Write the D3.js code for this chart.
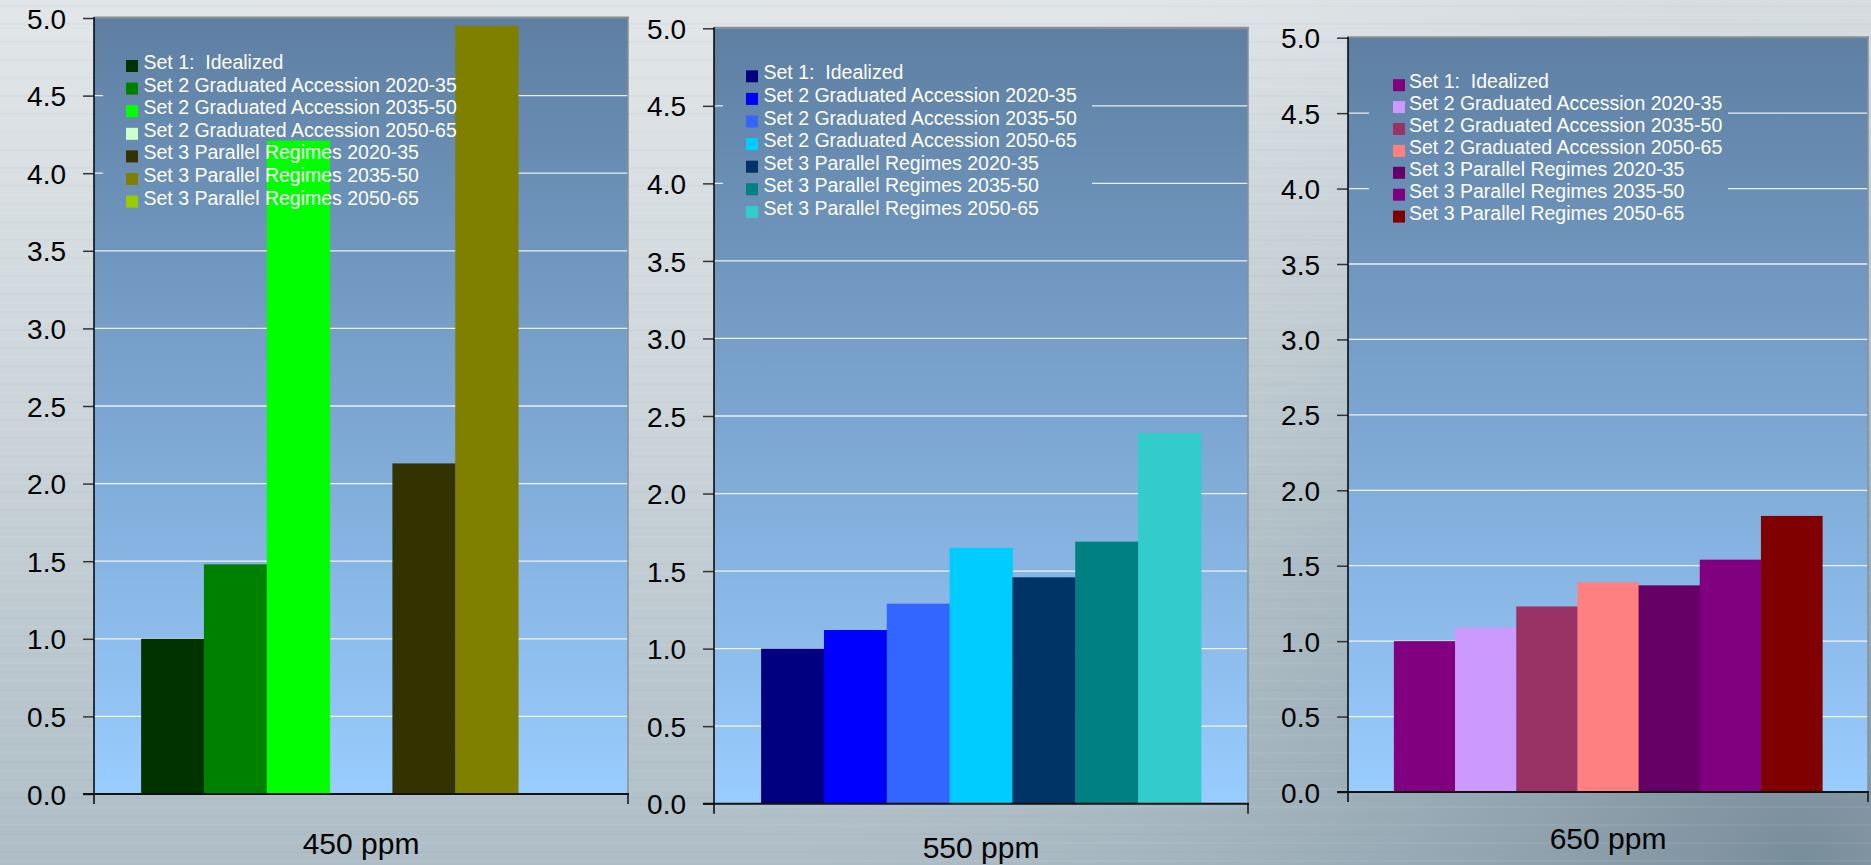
<!DOCTYPE html>
<html>
<head>
<meta charset="utf-8">
<script src="https://cdn.jsdelivr.net/npm/d3@7/dist/d3.min.js"></script>
<style>
  html, body { margin: 0; padding: 0; overflow: hidden; }
  svg { display: block; }
  text { font-family: "Liberation Sans", Arial, Helvetica, sans-serif; }
</style>
</head>
<body>
<svg id="chart" width="1871" height="865"></svg>
<script>
// ---- data -------------------------------------------------------------
const scenarios = ["450 ppm", "550 ppm", "650 ppm"];

const seriesNames = [
  "Set 1:  Idealized",
  "Set 2 Graduated Accession 2020-35",
  "Set 2 Graduated Accession 2035-50",
  "Set 2 Graduated Accession 2050-65",
  "Set 3 Parallel Regimes 2020-35",
  "Set 3 Parallel Regimes 2035-50",
  "Set 3 Parallel Regimes 2050-65"
];

// cost relative to the idealized case (null = no bar)
const values450 = [1.00, 1.48, 4.21, null, 2.13, 4.95, null];
const values550 = [1.00, 1.12, 1.29, 1.65, 1.46, 1.69, 2.39];
const values650 = [1.00, 1.09, 1.23, 1.39, 1.37, 1.54, 1.83];

const colors450 = ["#003300", "#008000", "#00ff00", "#ccffcc", "#333300", "#808000", "#99cc00"];
const colors550 = ["#000080", "#0000ff", "#3366ff", "#00ccff", "#003366", "#008080", "#33cccc"];
const colors650 = ["#800080", "#cc99ff", "#993366", "#ff8080", "#660066", "#800080", "#800000"];

const yTicks = [0, 0.5, 1.0, 1.5, 2.0, 2.5, 3.0, 3.5, 4.0, 4.5, 5.0];
const yMax = 5.0;

// ---- layout of the three panels ---------------------------------------
const panels = [
  { name: scenarios[0], values: values450, colors: colors450,
    x0: 94, x1: 628, top: 18, zero: 794, labelY: 854,
    markX: 32, textX: 49.5, legY: 51, legStep: 22.6, boxX0: 9, boxX1: 378 },
  { name: scenarios[1], values: values550, colors: colors550,
    x0: 714, x1: 1248, top: 28.3, zero: 803.7, labelY: 858,
    markX: 32, textX: 49.5, legY: 51, legStep: 22.6, boxX0: 9, boxX1: 378 },
  { name: scenarios[2], values: values650, colors: colors650,
    x0: 1348, x1: 1868, top: 37.7, zero: 792, labelY: 849,
    markX: 45, textX: 61, legY: 50.5, legStep: 21.9, boxX0: 21, boxX1: 380 }
];

const svg = d3.select("#chart");
const W = 1871, H = 865;
const defs = svg.append("defs");

// ---- slide background ---------------------------------------------------
const bg = defs.append("linearGradient").attr("id", "bgV")
  .attr("x1", 0).attr("y1", 0).attr("x2", 0).attr("y2", 1);
bg.append("stop").attr("offset", "0%").attr("stop-color", "#e2e6e8");
bg.append("stop").attr("offset", "45%").attr("stop-color", "#cdd6db");
bg.append("stop").attr("offset", "100%").attr("stop-color", "#aebdc6");

const shade = defs.append("radialGradient").attr("id", "bgShade")
  .attr("gradientUnits", "userSpaceOnUse")
  .attr("cx", 1800).attr("cy", 860).attr("r", 1100);
shade.append("stop").attr("offset", "0%").attr("stop-color", "#6f8593").attr("stop-opacity", 0.85);
shade.append("stop").attr("offset", "55%").attr("stop-color", "#8ea2ae").attr("stop-opacity", 0.35);
shade.append("stop").attr("offset", "100%").attr("stop-color", "#aebdc6").attr("stop-opacity", 0);

svg.append("rect").attr("width", W).attr("height", H).attr("fill", "url(#bgV)");
svg.append("rect").attr("width", W).attr("height", H).attr("fill", "url(#bgShade)");

// faint horizontal streaks of the brushed backdrop
const streakY = d3.range(6, H, 9);
svg.append("g").selectAll("line").data(streakY).join("line")
  .attr("x1", 0).attr("x2", W)
  .attr("y1", d => d).attr("y2", d => d)
  .attr("stroke", (d, i) => i % 2 ? "#ffffff" : "#8a9aa5")
  .attr("stroke-opacity", 0.06)
  .attr("stroke-width", 2);

// ---- panels -------------------------------------------------------------
panels.forEach((p, pi) => {
  const g = svg.append("g");

  const y = d3.scaleLinear().domain([0, yMax]).range([p.zero, p.top]);
  const x = d3.scaleBand().domain(seriesNames).range([p.x0, p.x1])
    .paddingInner(0).paddingOuter(0.75);

  // plot-area gradient, anchored to the panel so the legend patch matches it
  const gid = "plotFill" + pi;
  const pg = defs.append("linearGradient").attr("id", gid)
    .attr("gradientUnits", "userSpaceOnUse")
    .attr("x1", 0).attr("y1", p.top).attr("x2", 0).attr("y2", p.zero);
  pg.append("stop").attr("offset", "0%").attr("stop-color", "#5e7fa2");
  pg.append("stop").attr("offset", "100%").attr("stop-color", "#99ccff");

  g.append("rect")
    .attr("x", p.x0).attr("y", p.top)
    .attr("width", p.x1 - p.x0).attr("height", p.zero - p.top)
    .attr("fill", `url(#${gid})`);

  // horizontal gridlines
  g.append("g").selectAll("line").data(yTicks.filter(t => t > 0 && t < yMax)).join("line")
    .attr("x1", p.x0).attr("x2", p.x1)
    .attr("y1", d => y(d)).attr("y2", d => y(d))
    .attr("stroke", "#ffffff").attr("stroke-opacity", 0.85).attr("stroke-width", 1.3);

  // legend patch hides the gridlines behind the key
  g.append("rect")
    .attr("x", p.x0 + p.boxX0).attr("y", p.top + 20)
    .attr("width", p.boxX1 - p.boxX0).attr("height", 180)
    .attr("fill", `url(#${gid})`);

  // bars
  const rows = seriesNames.map((s, i) => ({ s, v: p.values[i], c: p.colors[i] }))
    .filter(d => d.v != null);
  g.append("g").selectAll("rect").data(rows).join("rect")
    .attr("x", d => x(d.s))
    .attr("width", x.bandwidth() + 0.5)
    .attr("y", d => y(d.v))
    .attr("height", d => y(0) - y(d.v))
    .attr("fill", d => d.c);

  // plot frame: grey top and right edges
  g.append("line").attr("x1", p.x0).attr("x2", p.x1 + 1)
    .attr("y1", p.top - 0.5).attr("y2", p.top - 0.5)
    .attr("stroke", "#8a8f94").attr("stroke-width", 2);
  g.append("line").attr("x1", p.x1).attr("x2", p.x1)
    .attr("y1", p.top - 1).attr("y2", p.zero)
    .attr("stroke", "#8a8f94").attr("stroke-width", 1.5);

  // value axis
  const yAxis = d3.axisLeft(y).tickValues(yTicks)
    .tickFormat(d3.format(".1f")).tickSize(11).tickPadding(17);
  const ya = g.append("g").attr("transform", `translate(${p.x0},0)`).call(yAxis);
  ya.select(".domain").remove();
  ya.selectAll(".tick line").attr("stroke", "#333333").attr("stroke-width", 1.5);
  ya.selectAll(".tick text")
    .attr("fill", "#000000")
    .style("font-size", "28px")
    .attr("dy", "0.36em");
  g.append("line").attr("x1", p.x0).attr("x2", p.x0)
    .attr("y1", p.top - 1).attr("y2", p.zero + 10)
    .attr("stroke", "#000000").attr("stroke-width", 1.5);

  // category axis with end ticks
  g.append("line").attr("x1", p.x0 - 11).attr("x2", p.x1 + 1)
    .attr("y1", p.zero).attr("y2", p.zero)
    .attr("stroke", "#111111").attr("stroke-width", 2);
  g.append("line").attr("x1", p.x1).attr("x2", p.x1)
    .attr("y1", p.zero).attr("y2", p.zero + 10)
    .attr("stroke", "#111111").attr("stroke-width", 1.5);

  g.append("text")
    .attr("x", (p.x0 + p.x1) / 2).attr("y", p.labelY)
    .attr("text-anchor", "middle")
    .style("font-size", "30px")
    .attr("fill", "#000000")
    .text(p.name);

  // legend
  const leg = g.append("g").selectAll("g").data(seriesNames).join("g")
    .attr("transform", (d, i) => `translate(${p.x0},${p.top + p.legY + i * p.legStep})`);
  leg.append("rect")
    .attr("x", p.markX).attr("y", -9)
    .attr("width", 12).attr("height", 12)
    .attr("fill", (d, i) => p.colors[i]);
  leg.append("text")
    .attr("x", p.textX).attr("y", 0)
    .style("font-size", "19.5px")
    .style("white-space", "pre")
    .attr("fill", "#ffffff")
    .text(d => d);
});
</script>
</body>
</html>
